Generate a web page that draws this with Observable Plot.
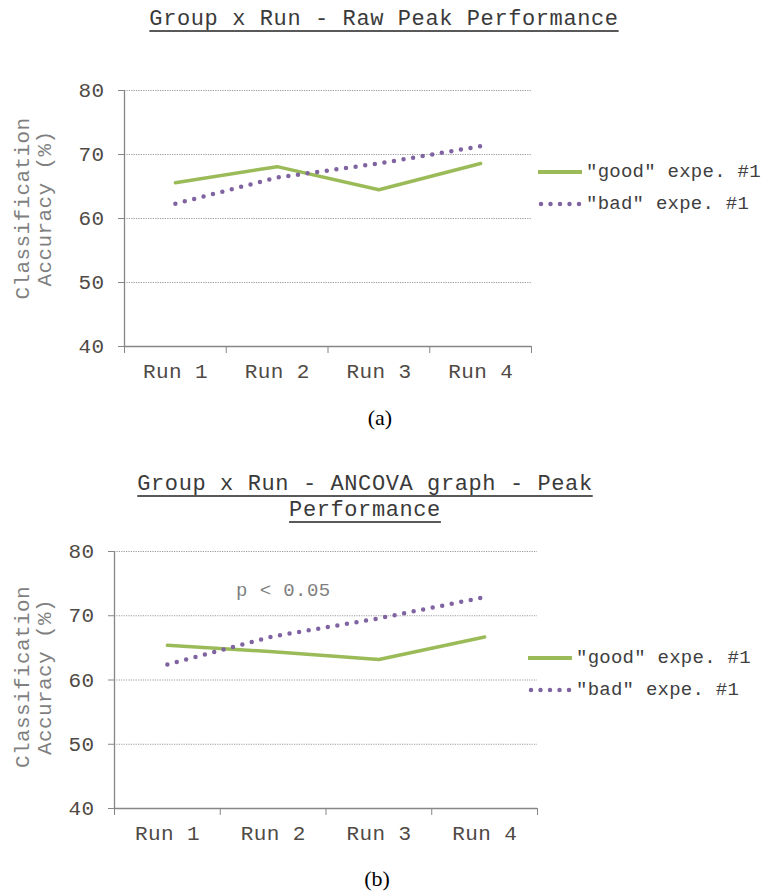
<!DOCTYPE html>
<html>
<head>
<meta charset="utf-8">
<script src="https://cdn.jsdelivr.net/npm/d3@7"></script>
<script src="https://cdn.jsdelivr.net/npm/@observablehq/plot@0.6"></script>
<style>
  html, body { margin: 0; padding: 0; background: #fff; }
  body { position: relative; width: 763px; height: 895px; overflow: hidden; font-family: "Liberation Mono", monospace; }
  .abs { position: absolute; }
  .title { color: #3a3a3a; font-size: 22px; letter-spacing: 0.6px; text-align: center; line-height: 26px;
           text-decoration: underline; text-decoration-thickness: 2px; text-underline-offset: 5px; text-decoration-color: #595959; white-space: nowrap; }
  .legend { font-size: 19px; letter-spacing: 0.25px; color: #404040; white-space: nowrap; }
  .legend .row { display: flex; align-items: center; height: 32px; }
  .legend svg { margin-right: 4px; }
  .caption { font-family: "Liberation Serif", serif; font-size: 22px; color: #000; text-align: center; }
</style>
</head>
<body>
<script>
// ---------- data ----------
const runs = ["Run 1", "Run 2", "Run 3", "Run 4"];
const yTicks = [40, 50, 60, 70, 80];
const seriesNames = ['"good" expe. #1', '"bad" expe. #1'];

const rawGood = [65.6, 68.1, 64.5, 68.6];
const rawBad = [62.3, 66.4, 68.6, 71.3];

const ancovaGood = [65.4, 64.4, 63.2, 66.7];
const ancovaBad = [62.4, 66.8, 69.6, 72.9];

const titleA = "Group x Run - Raw Peak Performance";
const titleB = ["Group x Run - ANCOVA graph - Peak", "Performance"];
const yLabel = "Classification\nAccuracy (%)";
const annotationB = [{label: "p < 0.05", run: 1.15, value: 74.0}];
const captions = ["(a)", "(b)"];

// ---------- styles ----------
const GREEN = "#9bbb59";
const PURPLE = "#8064a2";
const AXIS = "#868686";
const TICKTXT = "#4f4a45";
const FONT = "Liberation Mono, monospace";

function toRows(vals) { return vals.map((v, i) => ({run: runs[i], pos: i + 0.5, value: v})); }

function makeChart({good, bad, marginTop, marginLeft, marginRight, height, labelDx, labelDy, annotation}) {
  const bounds = d3.range(runs.length + 1);
  const centers = runs.map((r, i) => i + 0.5);
  const marks = [
    Plot.gridY(yTicks.slice(1), {stroke: "#9a9a9a", strokeOpacity: 1, strokeDasharray: "1.2,1.2"}),
    Plot.ruleY([yTicks[0]], {stroke: AXIS, strokeWidth: 1.3}),
    Plot.ruleX([0], {stroke: AXIS, strokeWidth: 1.3}),
    Plot.axisY({ticks: yTicks, tickSize: 6, tickPadding: 14, label: null, stroke: AXIS, fill: TICKTXT,
                fontSize: 21, fontFamily: FONT, tickFormat: d => String(d)}),
    Plot.axisX({ticks: bounds, tickSize: 7, label: null, stroke: AXIS, tickFormat: () => ""}),
    Plot.axisX({ticks: centers, tickSize: 0, tickPadding: 17, label: null, fill: TICKTXT,
                fontSize: 21, fontFamily: FONT, tickFormat: d => runs[Math.round(d - 0.5)]}),
    Plot.text([yLabel], {frameAnchor: "left", rotate: -90, dx: labelDx, dy: labelDy, lineHeight: 1.05,
                         fill: "#7f7f7f", fontSize: 21, fontFamily: FONT, textAnchor: "middle"}),
    Plot.line(toRows(good), {x: "pos", y: "value", stroke: GREEN, strokeWidth: 3.5, strokeLinejoin: "miter"}),
    Plot.line(toRows(bad), {x: "pos", y: "value", stroke: PURPLE, strokeWidth: 4.5,
                            strokeDasharray: "0,9.7", strokeLinecap: "round"})
  ];
  if (annotation) {
    marks.push(Plot.text(annotation, {x: "run", y: "value", text: "label", textAnchor: "start",
                                      fill: "#7f7f7f", fontSize: 19, fontFamily: FONT}));
  }
  const svg = Plot.plot({
    width: 763, height, marginTop, marginLeft, marginRight, marginBottom: 50,
    x: {type: "linear", domain: [0, runs.length]},
    y: {domain: [yTicks[0], yTicks[yTicks.length - 1]]},
    style: {background: "transparent", overflow: "visible", fontFamily: FONT, letterSpacing: "0.4px"},
    marks
  });
  return svg;
}

function legendSwatch(kind) {
  const s = d3.create("svg").attr("width", 44).attr("height", 10);
  if (kind === 0) {
    s.append("line").attr("x1", 0).attr("x2", 44).attr("y1", 5).attr("y2", 5)
      .attr("stroke", GREEN).attr("stroke-width", 4);
  } else {
    s.append("line").attr("x1", 3).attr("x2", 44).attr("y1", 5).attr("y2", 5)
      .attr("stroke", PURPLE).attr("stroke-width", 4.5).attr("stroke-dasharray", "0,9.5").attr("stroke-linecap", "round");
  }
  return s.node();
}

function addLegend(left, top) {
  const lg = document.createElement("div");
  lg.className = "abs legend";
  lg.style.left = left + "px";
  lg.style.top = top + "px";
  seriesNames.forEach((name, i) => {
    const row = document.createElement("div");
    row.className = "row";
    row.appendChild(legendSwatch(i));
    const t = document.createElement("span");
    t.textContent = name;
    row.appendChild(t);
    lg.appendChild(row);
  });
  document.body.appendChild(lg);
}

function addDiv(cls, text, left, top, width) {
  const d = document.createElement("div");
  d.className = "abs " + cls;
  d.style.left = left + "px";
  d.style.top = top + "px";
  d.style.width = width + "px";
  d.innerHTML = text;
  document.body.appendChild(d);
  return d;
}

// ---------- chart (a) ----------
addDiv("title", `<span>${titleA}</span>`, 0, 7, 768);
const svgA = makeChart({good: rawGood, bad: rawBad, marginTop: 50, marginLeft: 124, marginRight: 232,
                        height: 356, labelDx: -92, labelDy: -10});
svgA.style.position = "absolute"; svgA.style.left = "0px"; svgA.style.top = "40px";
document.body.appendChild(svgA);
addLegend(538, 156);
addDiv("caption", captions[0], 330, 405, 100);

// ---------- chart (b) ----------
addDiv("title", titleB.map(t => `<span>${t}</span>`).join("<br>"), 0, 472, 730);
const svgB = makeChart({good: ancovaGood, bad: ancovaBad, marginTop: 31, marginLeft: 114, marginRight: 226,
                        height: 338, labelDx: -82, labelDy: -3, annotation: annotationB});
svgB.style.position = "absolute"; svgB.style.left = "0px"; svgB.style.top = "520px";
document.body.appendChild(svgB);
addLegend(528, 642);
addDiv("caption", captions[1], 327, 866, 100);
</script>
</body>
</html>
